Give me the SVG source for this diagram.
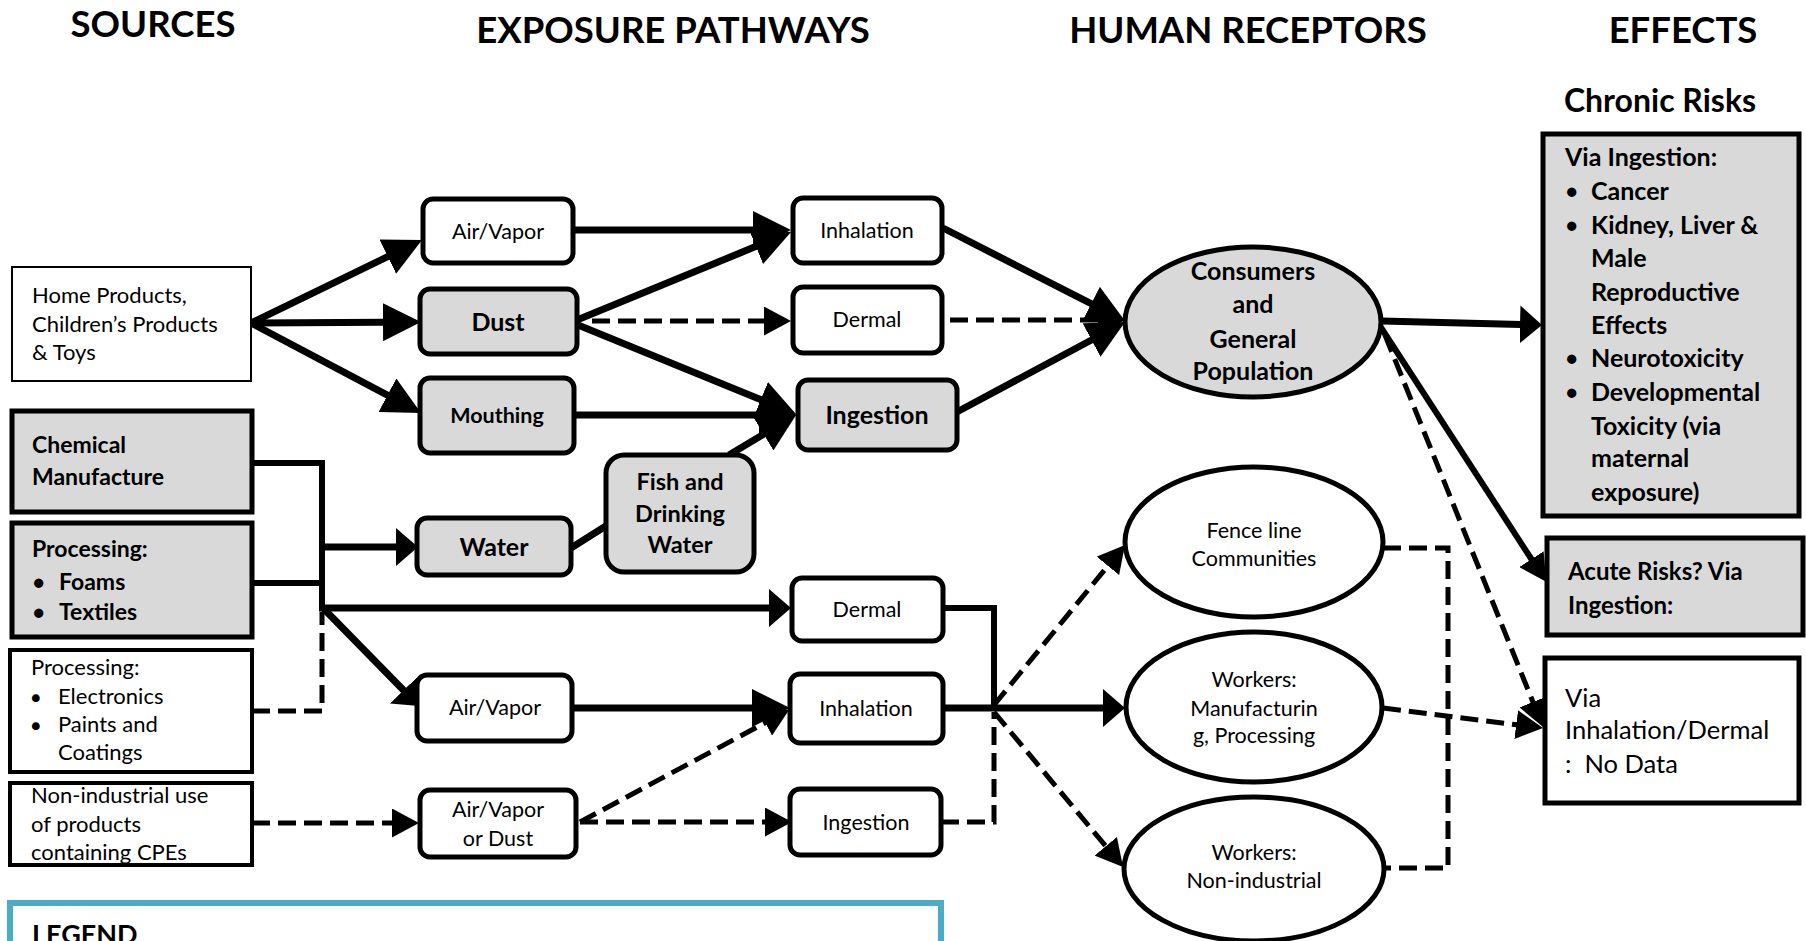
<svg xmlns="http://www.w3.org/2000/svg" width="1806" height="941" viewBox="0 0 1806 941">
  <style>
    text { font-family: Lato, "Liberation Sans", sans-serif; fill: #000; }
    .title { font-size: 36.5px; font-weight: bold; text-anchor: middle; }
    .sub { font-size: 32px; font-weight: bold; text-anchor: middle; }
    .reg { font-size: 22px; }
    .regc { font-size: 21.5px; text-anchor: middle; }
    .bold { font-size: 23px; font-weight: bold; }
    .boldc { font-size: 25px; font-weight: bold; text-anchor: middle; }
    .eff { font-size: 25px; font-weight: bold; }
    .effr { font-size: 25.5px; }
    .dot { font-size: 19px; }
    .plain { fill: #fff; stroke: #000; stroke-width: 2; }
    .box { fill: #fff; stroke: #000; stroke-width: 5; }
    .grey { fill: #d9d9d9; stroke: #000; stroke-width: 5; }
    .outline { fill: none; stroke: #000; stroke-width: 4; }
    .solid { fill: none; stroke: #000; stroke-width: 7; }
    .thin { fill: none; stroke: #000; stroke-width: 6; }
    .dash { fill: none; stroke: #000; stroke-width: 5; stroke-dasharray: 18 8; }
    .legend { fill: #fff; stroke: #4bacc6; stroke-width: 6; }
  </style>
  <defs>
    <marker id="big" markerUnits="userSpaceOnUse" markerWidth="38" markerHeight="38" refX="1" refY="19" orient="auto">
      <path d="M0,0 L38,19 L0,38 Z" fill="#000"/>
    </marker>
    <marker id="wide" markerUnits="userSpaceOnUse" markerWidth="22" markerHeight="38" refX="1" refY="19" orient="auto">
      <path d="M0,0 L22,19 L0,38 Z" fill="#000"/>
    </marker>
    <marker id="small" markerUnits="userSpaceOnUse" markerWidth="27" markerHeight="29" refX="1" refY="14.5" orient="auto">
      <path d="M0,0 L27,14.5 L0,29 Z" fill="#000"/>
    </marker>
  </defs>

  <rect width="1806" height="941" fill="#fff"/>

  <!-- column headings -->
  <g id="headings">
    <text class="title" x="153" y="37">SOURCES</text>
    <text class="title" x="673" y="43">EXPOSURE PATHWAYS</text>
    <text class="title" x="1248" y="43">HUMAN RECEPTORS</text>
    <text class="title" x="1683" y="43">EFFECTS</text>
    <text class="sub" x="1660" y="112">Chronic Risks</text>
  </g>

  <!-- connectors -->
  <g id="connectors">
    <!-- home products fan-out -->
    <line class="solid" x1="251" y1="323" x2="388.7" y2="256.2" marker-end="url(#big)"/>
    <line class="solid" x1="251" y1="323" x2="384" y2="322.2" marker-end="url(#big)"/>
    <line class="solid" x1="251" y1="323" x2="388.3" y2="395.7" marker-end="url(#big)"/>
    <!-- upper pathways to routes -->
    <line class="solid" x1="573" y1="230" x2="754" y2="230" marker-end="url(#big)"/>
    <line class="solid" x1="577" y1="320" x2="756.8" y2="246.1" marker-end="url(#big)"/>
    <line class="dash" x1="592" y1="321" x2="765" y2="321" marker-end="url(#small)"/>
    <line class="solid" x1="578" y1="325" x2="761.7" y2="400" marker-end="url(#big)"/>
    <line class="solid" x1="574" y1="415" x2="760" y2="415" marker-end="url(#big)"/>
    <line class="solid" x1="729" y1="455" x2="764.5" y2="433.7" marker-end="url(#big)"/>
    <line class="solid" x1="571" y1="548" x2="609" y2="524"/>
    <!-- routes to consumers -->
    <line class="solid" x1="943" y1="228" x2="1092.1" y2="304.2" marker-end="url(#big)"/>
    <line class="dash" x1="950" y1="320" x2="1099" y2="320" marker-end="url(#small)"/>
    <line class="solid" x1="955" y1="413" x2="1092.4" y2="339.5" marker-end="url(#big)"/>
    <!-- consumers to effects -->
    <line class="solid" x1="1382" y1="321" x2="1521" y2="324.5" marker-end="url(#wide)"/>
    <line class="thin" x1="1380" y1="326" x2="1532" y2="560" marker-end="url(#small)"/>
    <line class="dash" x1="1385" y1="335" x2="1533.3" y2="702.9" marker-end="url(#small)"/>
    <!-- industrial sources junction -->
    <polyline class="thin" points="252,463 322,463 322,611"/>
    <line class="thin" x1="252" y1="583" x2="322" y2="583"/>
    <polyline class="dash" points="252,711 322,711 322,612"/>
    <line class="solid" x1="322" y1="547" x2="397" y2="547" marker-end="url(#wide)"/>
    <line class="solid" x1="319" y1="608" x2="770" y2="608" marker-end="url(#wide)"/>
    <line class="solid" x1="324" y1="609" x2="404.3" y2="691" marker-end="url(#wide)"/>
    <!-- lower pathways to routes -->
    <line class="solid" x1="572" y1="708" x2="753" y2="708" marker-end="url(#big)"/>
    <line class="dash" x1="580" y1="822" x2="766.1" y2="722.3" marker-end="url(#small)"/>
    <line class="dash" x1="580" y1="822" x2="766" y2="822" marker-end="url(#small)"/>
    <line class="dash" x1="252" y1="823" x2="393" y2="823" marker-end="url(#small)"/>
    <!-- routes to worker / community receptors -->
    <polyline class="thin" points="943,608 994,608 994,711"/>
    <polyline class="dash" points="941,822 994,822 994,712"/>
    <line class="solid" x1="943" y1="708" x2="1104" y2="708" marker-end="url(#wide)"/>
    <line class="dash" x1="994" y1="705" x2="1108.5" y2="565.1" marker-end="url(#small)"/>
    <line class="dash" x1="994" y1="712" x2="1106.4" y2="847" marker-end="url(#small)"/>
    <!-- receptors to inhalation/dermal effects -->
    <polyline class="dash" points="1383,548 1448,548 1448,868 1385,868"/>
    <line class="dash" x1="1383" y1="708" x2="1517.2" y2="724.8" marker-end="url(#small)"/>
  </g>

  <!-- sources -->
  <g id="home-products">
    <rect class="plain" x="12" y="267" width="239" height="114"/>
    <text class="reg" x="32" y="303">Home Products,</text>
    <text class="reg" x="32" y="332">Children’s Products</text>
    <text class="reg" x="32" y="360">&amp; Toys</text>
  </g>
  <g id="chemical-manufacture">
    <rect class="grey" x="12" y="411" width="240" height="101"/>
    <text class="bold" x="32" y="453">Chemical</text>
    <text class="bold" x="32" y="485">Manufacture</text>
  </g>
  <g id="processing-foams">
    <rect class="grey" x="12" y="523" width="240" height="114"/>
    <text class="bold" x="32" y="557">Processing:</text>
    <text class="dot" x="33" y="589">●</text>
    <text class="bold" x="59" y="590">Foams</text>
    <text class="dot" x="33" y="619">●</text>
    <text class="bold" x="59" y="620">Textiles</text>
  </g>
  <g id="processing-electronics">
    <rect class="box" x="10" y="650" width="242" height="122" style="stroke-width:4"/>
    <text class="reg" x="31" y="675">Processing:</text>
    <text class="dot" x="31" y="703" style="font-size:16px">●</text>
    <text class="reg" x="58" y="704">Electronics</text>
    <text class="dot" x="31" y="731" style="font-size:16px">●</text>
    <text class="reg" x="58" y="732">Paints and</text>
    <text class="reg" x="58" y="760">Coatings</text>
  </g>
  <g id="non-industrial-use">
    <rect x="10" y="783" width="242" height="82" fill="#fff"/>
    <text class="reg" x="31" y="803">Non-industrial use</text>
    <text class="reg" x="31" y="832">of products</text>
    <text class="reg" x="31" y="860">containing CPEs</text>
    <rect class="outline" x="10" y="783" width="242" height="82"/>
  </g>

  <!-- exposure pathways -->
  <g id="air-vapor-1">
    <rect class="box" x="423" y="199" width="150" height="64" rx="10"/>
    <text class="regc" x="498" y="239">Air/Vapor</text>
  </g>
  <g id="dust">
    <rect class="grey" x="420" y="289" width="157" height="65" rx="10"/>
    <text class="boldc" x="498" y="331">Dust</text>
  </g>
  <g id="mouthing">
    <rect class="grey" x="420" y="378" width="154" height="75" rx="10"/>
    <text class="boldc" x="497" y="423" style="font-size:21.5px">Mouthing</text>
  </g>
  <g id="water">
    <rect class="grey" x="417" y="518" width="154" height="57" rx="10"/>
    <text class="boldc" x="494" y="556">Water</text>
  </g>
  <g id="fish-drinking-water">
    <rect class="grey" x="606" y="455" width="148" height="117" rx="18"/>
    <text class="boldc" x="680" y="490" style="font-size:23.5px">Fish and</text>
    <text class="boldc" x="680" y="522" style="font-size:23.5px">Drinking</text>
    <text class="boldc" x="680" y="553" style="font-size:23.5px">Water</text>
  </g>
  <g id="air-vapor-2">
    <rect class="box" x="417" y="675" width="155" height="66" rx="10"/>
    <text class="regc" x="495" y="715">Air/Vapor</text>
  </g>
  <g id="air-vapor-or-dust">
    <rect class="box" x="420" y="790" width="156" height="67" rx="10"/>
    <text class="regc" x="498" y="817">Air/Vapor</text>
    <text class="regc" x="498" y="846">or Dust</text>
  </g>

  <!-- exposure routes -->
  <g id="inhalation-1">
    <rect class="box" x="793" y="198" width="149" height="65" rx="10"/>
    <text class="regc" x="867" y="238">Inhalation</text>
  </g>
  <g id="dermal-1">
    <rect class="box" x="793" y="287" width="149" height="66" rx="10"/>
    <text class="regc" x="867" y="327">Dermal</text>
  </g>
  <g id="ingestion-1">
    <rect class="grey" x="798" y="380" width="159" height="70" rx="10"/>
    <text class="boldc" x="877" y="424">Ingestion</text>
  </g>
  <g id="dermal-2">
    <rect class="box" x="792" y="578" width="151" height="63" rx="10"/>
    <text class="regc" x="867" y="617">Dermal</text>
  </g>
  <g id="inhalation-2">
    <rect class="box" x="790" y="674" width="153" height="69" rx="10"/>
    <text class="regc" x="866" y="716">Inhalation</text>
  </g>
  <g id="ingestion-2">
    <rect class="box" x="790" y="789" width="151" height="66" rx="10"/>
    <text class="regc" x="866" y="830">Ingestion</text>
  </g>

  <!-- human receptors -->
  <g id="consumers">
    <ellipse class="grey" cx="1253" cy="322" rx="128" ry="75"/>
    <text class="boldc" x="1253" y="280">Consumers</text>
    <text class="boldc" x="1253" y="313">and</text>
    <text class="boldc" x="1253" y="348">General</text>
    <text class="boldc" x="1253" y="380">Population</text>
  </g>
  <g id="fence-line">
    <ellipse class="box" cx="1254" cy="542" rx="129" ry="75"/>
    <text class="regc" x="1254" y="538">Fence line</text>
    <text class="regc" x="1254" y="566">Communities</text>
  </g>
  <g id="workers-manufacturing">
    <ellipse class="box" cx="1254" cy="707" rx="128" ry="75"/>
    <text class="regc" x="1254" y="687">Workers:</text>
    <text class="regc" x="1254" y="716">Manufacturin</text>
    <text class="regc" x="1254" y="743">g, Processing</text>
  </g>
  <g id="workers-non-industrial">
    <ellipse class="box" cx="1254" cy="869" rx="130" ry="72"/>
    <text class="regc" x="1254" y="860">Workers:</text>
    <text class="regc" x="1254" y="888">Non-industrial</text>
  </g>

  <!-- effects -->
  <g id="chronic-risks">
    <rect class="grey" x="1543" y="134" width="256" height="382"/>
    <text class="eff" x="1565" y="166">Via Ingestion:</text>
    <text class="dot" x="1566" y="198">●</text>
    <text class="eff" x="1591" y="200">Cancer</text>
    <text class="dot" x="1566" y="232">●</text>
    <text class="eff" x="1591" y="234">Kidney, Liver &amp;</text>
    <text class="eff" x="1591" y="267">Male</text>
    <text class="eff" x="1591" y="301">Reproductive</text>
    <text class="eff" x="1591" y="334">Effects</text>
    <text class="dot" x="1566" y="365">●</text>
    <text class="eff" x="1591" y="367">Neurotoxicity</text>
    <text class="dot" x="1566" y="399">●</text>
    <text class="eff" x="1591" y="401">Developmental</text>
    <text class="eff" x="1591" y="435">Toxicity (via</text>
    <text class="eff" x="1591" y="467">maternal</text>
    <text class="eff" x="1591" y="501">exposure)</text>
  </g>
  <g id="acute-risks">
    <rect class="grey" x="1547" y="538" width="256" height="97"/>
    <text class="eff" x="1568" y="580" style="font-size:24px">Acute Risks? Via</text>
    <text class="eff" x="1568" y="614" style="font-size:24px">Ingestion:</text>
  </g>
  <g id="inhalation-dermal-effects">
    <rect class="box" x="1545" y="658" width="254" height="145"/>
    <text class="effr" x="1565" y="707">Via</text>
    <text class="effr" x="1565" y="739">Inhalation/Dermal</text>
    <text class="effr" x="1565" y="773">:&#160; No Data</text>
  </g>

  <!-- legend panel -->
  <g id="legend">
    <rect class="legend" x="10" y="903" width="931" height="80"/>
    <text x="32" y="944" style="font-size:27px;font-weight:bold">LEGEND</text>
  </g>
</svg>
